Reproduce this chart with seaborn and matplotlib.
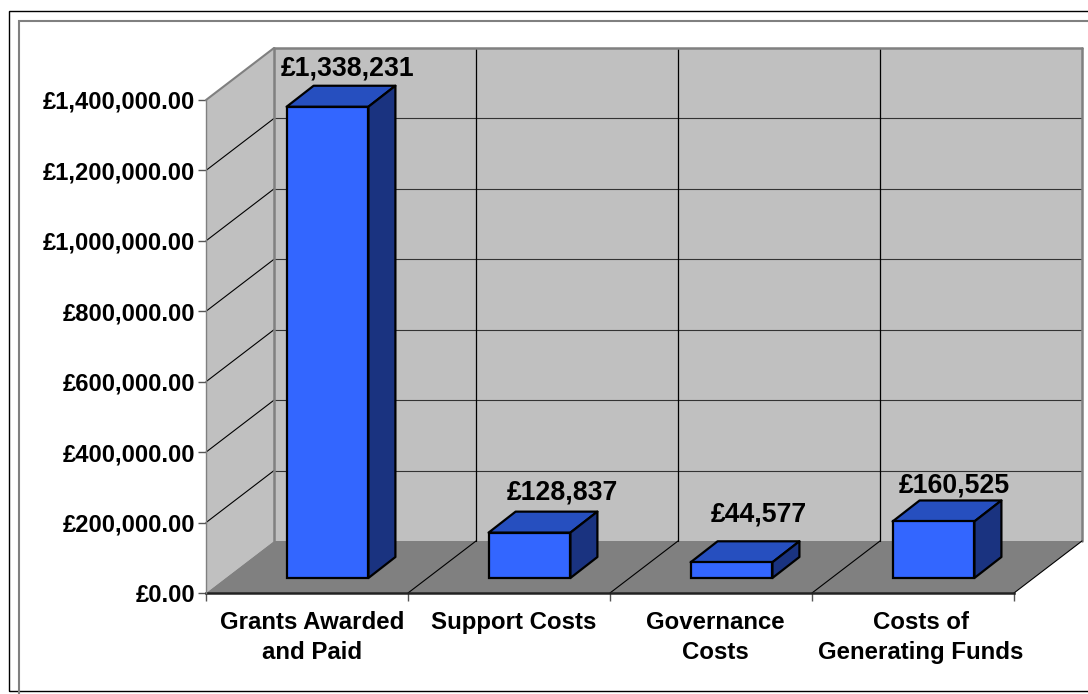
"""Charity expenditure chart, drawn as an Excel style 3D column chart."""
import matplotlib
matplotlib.use("Agg")
import matplotlib.pyplot as plt
import numpy as np
import pandas as pd
import seaborn as sns
from matplotlib.lines import Line2D
from matplotlib.patches import Polygon, Rectangle
from matplotlib.transforms import Affine2D, IdentityTransform

CATEGORIES = ["Grants Awarded\nand Paid", "Support Costs",
              "Governance\nCosts", "Costs of\nGenerating Funds"]
VALUES = [1338231, 128837, 44577, 160525]
VALUE_LABELS = ["£1,338,231", "£128,837", "£44,577", "£160,525"]
Y_TICKS = [0, 200000, 400000, 600000, 800000, 1000000, 1200000, 1400000]

W, H = 1088, 694
WALL_DX, WALL_DY = 68, 52     # depth of the box, px
BAR_DX, BAR_DY = 20.5, 15     # bars stand this far behind the front edge
SIDE_DX, SIDE_DY = 27, 21     # depth of a bar
LABEL_OFFSETS = [(41, 53), (53, 55), (48, 63), (41, 51)]
TICK_SHIFTS = [5, 5, 4, 8]

FRONT = "#3366ff"
TOP = "#264fbf"
SIDE = "#1a3380"
WALL = "#c0c0c0"
FLOOR = "#808080"
EDGE = "#808080"

sns.set_theme(style="white")
plt.rcParams["font.family"] = ["Liberation Sans", "DejaVu Sans"]
plt.rcParams["font.weight"] = "bold"

fig = plt.figure(figsize=(W / 100, H / 100), dpi=100)
ax = fig.add_axes([206 / W, (H - 593) / H, 808 / W, 493 / H])
ax.patch.set_visible(False)

df = pd.DataFrame({"category": CATEGORIES, "value": VALUES})
sns.barplot(data=df, x="category", y="value", color=FRONT, saturation=1,
            width=0.405, edgecolor="black", linewidth=1.6, ax=ax, zorder=4)
ax.set_xlim(-0.5, 3.5)
ax.set_ylim(0, 1400000)
ax.set_xlabel("")
ax.set_ylabel("")


def px(x, y, dx=0, dy=0):
    return ax.transData.transform((x, y)) + (dx, dy)


def face(points, color, zorder, edge="none", lw=0):
    ax.add_patch(Polygon(points, closed=True, facecolor=color, edgecolor=edge,
                         linewidth=lw, transform=IdentityTransform(),
                         clip_on=False, zorder=zorder, joinstyle="round"))


def seg(a, b, color, lw, zorder):
    ax.add_line(Line2D([a[0], b[0]], [a[1], b[1]], color=color, lw=lw,
                       transform=IdentityTransform(), clip_on=False, zorder=zorder))


x0, x1 = ax.get_xlim()
y1 = Y_TICKS[-1]

# back wall, side wall and floor
face([px(x0, 0, WALL_DX, WALL_DY), px(x1, 0, WALL_DX, WALL_DY),
      px(x1, y1, WALL_DX, WALL_DY), px(x0, y1, WALL_DX, WALL_DY)], WALL, 0.2)
face([px(x0, 0), px(x0, 0, WALL_DX, WALL_DY),
      px(x0, y1, WALL_DX, WALL_DY), px(x0, y1)], WALL, 0.2)
face([px(x0, 0), px(x1, 0), px(x1, 0, WALL_DX, WALL_DY),
      px(x0, 0, WALL_DX, WALL_DY)], FLOOR, 0.3)

# gridlines
for v in Y_TICKS[1:-1]:
    seg(px(x0, v), px(x0, v, WALL_DX, WALL_DY), "black", 0.8, 0.5)
    seg(px(x0, v, WALL_DX, WALL_DY), px(x1, v, WALL_DX, WALL_DY), "#333333", 0.8, 0.5)
for i in (0.5, 1.5, 2.5):
    seg(px(i, 0), px(i, 0, WALL_DX, WALL_DY), "black", 0.8, 0.5)
    seg(px(i, 0, WALL_DX, WALL_DY), px(i, y1, WALL_DX, WALL_DY), "black", 0.9, 0.5)

# box outline
seg(px(x0, y1), px(x0, y1, WALL_DX, WALL_DY), EDGE, 1.5, 0.6)
seg(px(x0, y1, WALL_DX, WALL_DY), px(x1, y1, WALL_DX, WALL_DY), EDGE, 1.8, 0.6)
seg(px(x0, y1, WALL_DX, WALL_DY), px(x0, 0, WALL_DX, WALL_DY), EDGE, 1.8, 0.6)
seg(px(x1, y1, WALL_DX, WALL_DY), px(x1, 0, WALL_DX, WALL_DY), EDGE, 1.8, 0.6)
seg(px(x1, 0), px(x1, 0, WALL_DX, WALL_DY), "black", 0.8, 0.6)

# push the front faces back into the box and build their top and side
shift = ax.transData + Affine2D().translate(BAR_DX, BAR_DY)
for bar in ax.containers[0]:
    bar.set_transform(shift)
    bar.set_clip_on(False)
    left, right = bar.get_x(), bar.get_x() + bar.get_width()
    h = bar.get_height()
    a = px(left, h, BAR_DX, BAR_DY)
    b = px(right, h, BAR_DX, BAR_DY)
    c = px(right, 0, BAR_DX, BAR_DY)
    off = np.array([SIDE_DX, SIDE_DY])
    face([a, b, b + off, a + off], TOP, 3, "black", 1.6)
    face([b, c, c + off, b + off], SIDE, 3, "black", 1.6)

for i, (v, text, off) in enumerate(zip(VALUES, VALUE_LABELS, LABEL_OFFSETS)):
    ax.annotate(text, xy=(i, v), xytext=off, textcoords="offset pixels",
                ha="center", va="center", fontsize=19.2, fontweight="bold",
                color="black", annotation_clip=False, zorder=6)

# axes
sns.despine(ax=ax, top=True, right=True)
ax.spines["left"].set_color(EDGE)
ax.spines["left"].set_linewidth(1.0)
ax.spines["bottom"].set_color("#222222")
ax.spines["bottom"].set_linewidth(1.8)
ax.spines["bottom"].set_zorder(2)

ax.set_yticks(Y_TICKS)
ax.set_yticklabels([f"£{v:,.2f}" for v in Y_TICKS])
ax.tick_params(axis="y", left=True, length=6, width=1, color="#555555", pad=2,
               labelsize=17.1, labelcolor="black")
ax.set_xticks(np.arange(len(CATEGORIES)))
ax.set_xticks([-0.5, 0.5, 1.5, 2.5, 3.5], minor=True)
ax.tick_params(axis="x", which="major", bottom=False, length=0, pad=13,
               labelsize=17.3, labelcolor="black")
ax.tick_params(axis="x", which="minor", bottom=True, length=6, width=1, color="#555555")
for lab, s in zip(ax.get_xticklabels(), TICK_SHIFTS):
    lab.set_transform(lab.get_transform() + Affine2D().translate(s, 0))
    lab.set_linespacing(1.38)
    lab.set_fontweight("bold")
for lab in ax.get_yticklabels():
    lab.set_fontweight("bold")

# chart frames, running off the right and bottom of the picture
fig.add_artist(Rectangle((8.5, H - 690.5), W, 680, fill=False, edgecolor="black",
                         linewidth=1, transform=IdentityTransform()))
fig.add_artist(Rectangle((18.5, -20), W, H - 0.5, fill=False, edgecolor=EDGE,
                         linewidth=1.5, transform=IdentityTransform()))

fig.savefig("out.png", dpi=100)
